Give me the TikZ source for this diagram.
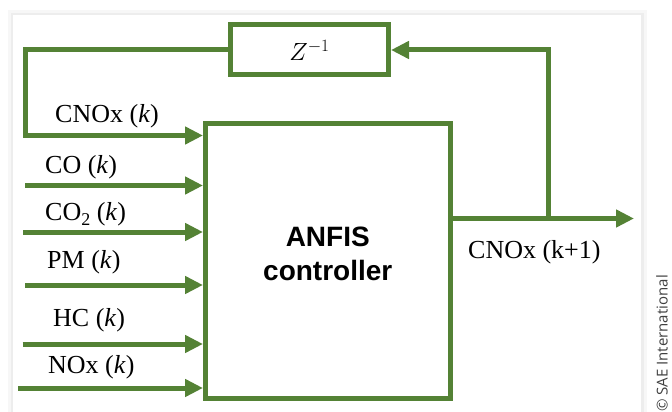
\documentclass[tikz,border=0pt]{standalone}
\usepackage{fontspec}
\setmainfont{Liberation Serif}
\setsansfont{Liberation Sans}
\newfontfamily\creditfont{Open Sans}
\usetikzlibrary{arrows.meta}
\definecolor{flowgreen}{RGB}{84,130,53}

\begin{document}
\begin{tikzpicture}[x=1pt,y=-1pt,
  flow/.style={flowgreen, line width=5pt},
  flowarrow/.style={flow, -{Triangle[length=18pt,width=17pt]}},
  block/.style={draw=flowgreen, line width=5pt, fill=white, inner sep=0pt},
  lbl/.style={font=\fontsize{26}{29}\selectfont, anchor=base west, inner sep=0pt}]
\useasboundingbox (0,0) rectangle (672,412);
\fill[black!3] (8,10) rectangle (647,412);
\fill[black!7] (11,13) rectangle (644,412);
\fill[white] (13,15) rectangle (641,412);
\node[block, minimum width=244.5pt, minimum height=274.5pt] (anfis) at (327.75,260.75) {};
\node[font=\fontsize{28}{34}\selectfont\sffamily\bfseries, align=center] (anfistext) at ([yshift=7pt]anfis.center) {ANFIS\\controller};
\node[block, minimum width=158pt, minimum height=50pt, font=\fontsize{27}{30}\selectfont] (delay) at (309.5,50) {$Z^{-1}$};
\coordinate (branch) at (548,218.5);
\coordinate (out) at (634,218.5);
\coordinate (fbcorner) at (25,135.5);
\draw[flowarrow] (anfis.east |- branch) -- (out);
\draw[flowarrow] (branch) |- (delay.east);
\draw[flowarrow] (delay.west) -| (fbcorner) -- (fbcorner -| anfis.west);
\foreach \n/\x/\y in {co/25/185.5, cotwo/23/232, pm/25/285, hc/22.7/344, nox/18/388} {
  \coordinate (\n) at (\x,\y);
  \draw[flowarrow] (\n) -- (\n -| anfis.west);
}
\node[lbl] (cnoxlbl) at (55,122) {CNOx (\textit{k})};
\node[lbl] (colbl) at (45,173) {CO (\textit{k})};
\node[lbl] (cotwolbl) at (45,220) {CO\raisebox{-5pt}{\fontsize{18}{20}\selectfont 2} (\textit{k})};
\node[lbl] (pmlbl) at (47,268) {PM (\textit{k})};
\node[lbl] (hclbl) at (53,326) {HC (\textit{k})};
\node[lbl] (noxlbl) at (48,373) {NOx (\textit{k})};
\node[lbl] (outlbl) at (468,258) {CNOx (k+1)};
\node[rotate=90, anchor=east, inner sep=0pt, text=black!75, font=\creditfont\fontsize{15}{17}\selectfont] (credit) at (662,275) {© SAE International};
\end{tikzpicture}
\end{document}
